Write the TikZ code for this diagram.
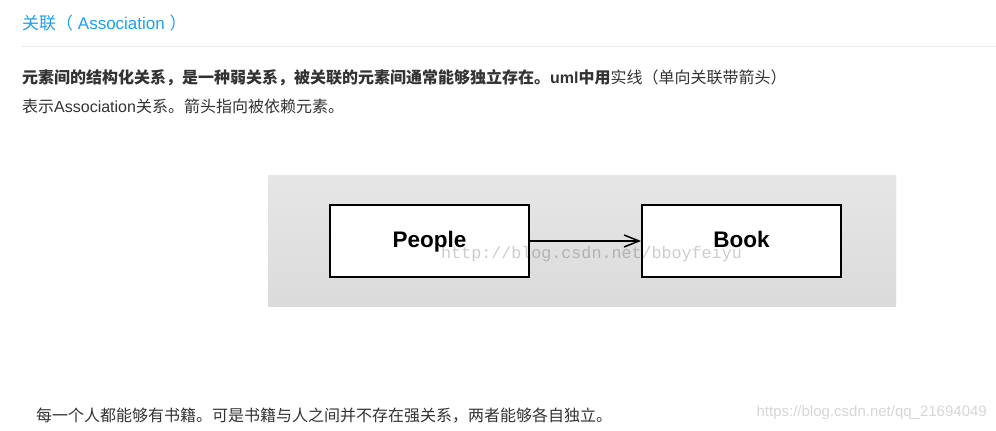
\documentclass[tikz,border=0pt]{standalone}
\usepackage{fontspec}
\setmainfont{Liberation Sans}
\newfontfamily\zhfont{Noto Sans CJK SC}
\newfontfamily\wmmono{Liberation Mono}
\newcommand\zh[1]{{\zhfont #1}}
\definecolor{titleblue}{RGB}{30,160,235}
\definecolor{bodytext}{RGB}{51,51,51}
\definecolor{rulegray}{RGB}{234,234,234}
\definecolor{paneltop}{RGB}{230,230,230}
\definecolor{panelbot}{RGB}{219,219,219}
\definecolor{wmlight}{RGB}{215,215,215}
\usetikzlibrary{arrows.meta}
\begin{document}
\begin{tikzpicture}[x=1pt,y=-1pt,
  textline/.style={anchor=west,inner sep=0pt,text=bodytext,font=\fontsize{16}{19}\selectfont},
  umlbox/.style={draw=black,line width=1.8pt,fill=white,minimum width=199pt,minimum height=72pt,inner sep=0pt},
  umllabel/.style={anchor=base,inner sep=0pt,font=\fontsize{22.5}{26}\selectfont\bfseries},
  assoc/.style={draw=black,line width=1.5pt,-{Straight Barb[length=15pt,width=12pt,line width=1.5pt]}}]
\useasboundingbox (0,0) rectangle (996,431);
\fill[white] (0,0) rectangle (996,431);
% title
\node[anchor=west,inner sep=0pt,text=titleblue,font=\fontsize{17}{20}\selectfont] (title) at (22,23) {\zh{关联（} Association \zh{）}};
\draw[rulegray,line width=1pt] (22,46.5) -- (996,46.5);
% body text
\node[textline] (l1) at (22,78) {\bfseries\zh{\bfseries 元素间的结构化关系，是一种弱关系，被关联的元素间通常能够独立存在。}uml\zh{\bfseries 中用}\mdseries\zh{实线（单向关联带箭头）}};
\node[textline] (l2) at (22,106) {\zh{表示}Association\zh{关系。箭头指向被依赖元素。}};
% panel
\shade[top color=paneltop,bottom color=panelbot] (268,175) rectangle (896,306);
\node[umlbox] (people) at (429.5,241) {};
\node[umlbox] (book) at (741.5,241) {};
\node[umllabel] (peopletext) at (429.5,247) {People};
\node[umllabel] (booktext) at (741.5,247) {Book};
\draw[assoc] (people.east) -- (book.west);
\node[anchor=base west,inner sep=0pt,text=black,text opacity=0.2,font=\wmmono\fontsize{16.7}{20}\selectfont] (wm1) at (441,258) {http://blog.csdn.net/bboyfeiyu};
% bottom
\node[textline] (l3) at (36,416) {\zh{每一个人都能够有书籍。可是书籍与人之间并不存在强关系，两者能够各自独立。}};
\node[anchor=east,inner sep=0pt,text=wmlight,font=\fontsize{15}{18}\selectfont] (wm2) at (987,413) {https://blog.csdn.net/qq\_21694049};
\end{tikzpicture}
\end{document}
